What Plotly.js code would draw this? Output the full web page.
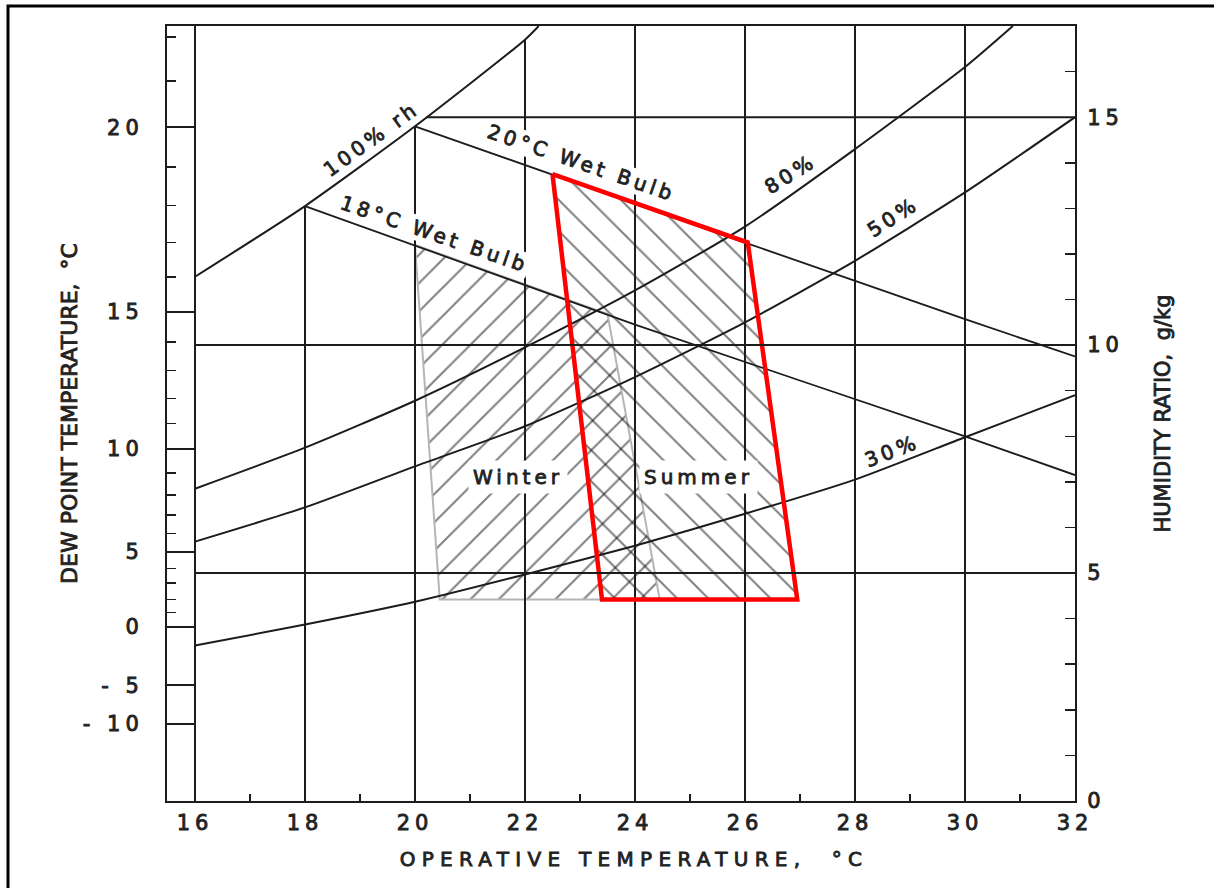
<!DOCTYPE html>
<html>
<head>
<meta charset="utf-8">
<script src="https://cdn.plot.ly/plotly-3.0.1.min.js"></script>
<style>
html,body{margin:0;padding:0;background:#fff;}
svg text{letter-spacing:5px; stroke:#222; stroke-width:0.85px;}
svg text.xtitle{letter-spacing:6.3px; translate:13px 0;}
svg text.ytitle, svg text.y2title{letter-spacing:0px;}
svg text.ytitle{translate:3px 0;}
svg text.annotation-text{letter-spacing:4px;}
</style>
</head>
<body>
<div id="chart" style="width:1214px;height:888px;"></div>
<script>
// ---------- data ----------
// vertical operative-temperature lines (°C) and the humidity ratio (g/kg) where each one stops
const gridTemps = [16, 18, 20, 22, 24, 26, 28, 30];
const gridTops  = [17, 13.05, 14.8, 16.7, 17, 17, 17, 17];
const xTickVals = [16, 18, 20, 22, 24, 26, 28, 30, 32];
const xTickText = ['16', '18', '20', '22', '24', '26', '28', '30', '32'];
const xMinorTicks = [17, 19, 21, 23, 25, 27, 29, 31];

// horizontal humidity-ratio lines (g/kg)
const hLineW     = [5, 10, 15];
const hLineStart = [16, 16, 20.2];
const hLineEnd   = [32, 32, 32];

// right axis: humidity ratio, g/kg
const wTickVals = [0, 5, 10, 15];
const wTickText = ['0', '5', '10', '15'];
const wMinorTicks = [1, 2, 3, 4, 6, 7, 8, 9, 11, 12, 13, 14, 16];

// left axis: dew point temperature labels placed on the humidity-ratio scale
const dewTickW    = [14.78, 10.73, 7.72, 5.46, 3.82, 2.54, 1.69];
const dewTickText = ['20', '15', '10', '5', '0', '- 5', '- 10'];
const dewMinorW   = [16.76, 15.79, 13.91, 13.06, 12.25, 11.49, 10.07, 9.44, 8.83, 8.28,
                     7.19, 6.71, 6.27, 5.87, 5.10, 4.78, 4.42, 4.14];

// relative humidity curves (operative temperature °C, humidity ratio g/kg)
const rh100T = [16, 18, 20, 22, 22.25];
const rh100W = [11.5, 13.05, 14.8, 16.7, 17.0];
const rh80T  = [16, 18, 20, 22, 24, 26, 28, 30, 30.87];
const rh80W  = [6.85, 7.75, 8.78, 9.95, 11.2, 12.6, 14.3, 16.1, 17.0];
const rh50T  = [16, 18, 20, 22, 24, 26, 28, 30, 32];
const rh50W  = [5.69, 6.44, 7.34, 8.22, 9.3, 10.5, 11.85, 13.35, 15.0];
const rh30T  = [16, 18, 20, 22, 24, 26, 28, 30, 32];
const rh30W  = [3.41, 3.87, 4.37, 4.97, 5.6, 6.3, 7.05, 7.98, 8.9];

// wet bulb lines
const wb18T = [18, 24, 30, 32];
const wb18W = [13.05, 10.45, 8.0, 7.15];
const wb20T = [20, 26, 30, 32];
const wb20W = [14.8, 12.25, 10.57, 9.75];

// comfort zones
const winterT = [20.0, 23.5, 24.45, 20.45];
const winterW = [12.2, 10.68, 4.42, 4.42];
const summerT = [22.5, 26.05, 26.95, 23.4];
const summerW = [13.75, 12.25, 4.42, 4.42];

// ---------- build traces ----------
const FONT = 'DejaVu Sans, Liberation Sans, Arial, sans-serif';
const INK = '#1c1c1c';

function segments(xs0, xs1, ys0, ys1) {
  const x = [], y = [];
  for (let i = 0; i < xs0.length; i++) {
    x.push(xs0[i], xs1[i], null);
    y.push(ys0[i], ys1[i], null);
  }
  return {x, y};
}
function closed(a) { return a.concat([a[0]]); }

const vGrid = segments(gridTemps, gridTemps, gridTemps.map(() => 0), gridTops);
const hGrid = segments(hLineStart, hLineEnd, hLineW, hLineW);

const traces = [
  { // winter zone hatch
    x: closed(winterT), y: closed(winterW), type: 'scatter', mode: 'lines',
    fill: 'toself', fillcolor: 'rgba(0,0,0,0)',
    fillpattern: {shape: '/', size: 20, solidity: 0.1, fgcolor: '#000', bgcolor: 'rgba(0,0,0,0)', fillmode: 'overlay'},
    line: {color: '#b5b5b5', width: 2}, hoverinfo: 'skip'
  },
  { // summer zone hatch
    x: closed(summerT), y: closed(summerW), type: 'scatter', mode: 'lines',
    fill: 'toself', fillcolor: 'rgba(0,0,0,0)',
    fillpattern: {shape: '\\', size: 22, solidity: 0.09, fgcolor: '#000', bgcolor: 'rgba(0,0,0,0)', fillmode: 'overlay'},
    line: {color: '#b5b5b5', width: 1}, hoverinfo: 'skip'
  },
  { x: vGrid.x, y: vGrid.y, type: 'scatter', mode: 'lines', line: {color: INK, width: 2}, hoverinfo: 'skip' },
  { x: hGrid.x, y: hGrid.y, type: 'scatter', mode: 'lines', line: {color: INK, width: 2}, yaxis: 'y2', hoverinfo: 'skip' },
  { x: rh100T, y: rh100W, type: 'scatter', mode: 'lines', line: {color: INK, width: 2, shape: 'spline', smoothing: 0.6}, name: '100% rh' },
  { x: rh80T, y: rh80W, type: 'scatter', mode: 'lines', line: {color: INK, width: 2, shape: 'spline', smoothing: 0.6}, name: '80%' },
  { x: rh50T, y: rh50W, type: 'scatter', mode: 'lines', line: {color: INK, width: 2, shape: 'spline', smoothing: 0.6}, name: '50%' },
  { x: rh30T, y: rh30W, type: 'scatter', mode: 'lines', line: {color: INK, width: 2, shape: 'spline', smoothing: 0.6}, name: '30%' },
  { x: wb18T, y: wb18W, type: 'scatter', mode: 'lines', line: {color: INK, width: 1.8, shape: 'spline', smoothing: 0.4}, name: '18°C Wet Bulb' },
  { x: wb20T, y: wb20W, type: 'scatter', mode: 'lines', line: {color: INK, width: 1.8, shape: 'spline', smoothing: 0.4}, name: '20°C Wet Bulb' },
  { // red outline around the summer zone
    x: closed(summerT), y: closed(summerW), type: 'scatter', mode: 'lines',
    line: {color: '#ff0000', width: 4.5}, hoverinfo: 'skip'
  }
];

const tickFont = {family: FONT, size: 21, color: '#222'};
const annFont = {family: FONT, size: 20, color: '#222'};

const layout = {
  width: 1214, height: 888,
  margin: {l: 167, r: 139, t: 26, b: 87, pad: 0},
  paper_bgcolor: '#fff', plot_bgcolor: '#fff',
  showlegend: false,
  font: {family: FONT, color: '#222'},
  xaxis: {
    range: [15.491, 32], showline: true, linecolor: INK, linewidth: 2, mirror: true,
    showgrid: false, zeroline: false,
    tickmode: 'array', tickvals: xTickVals, ticktext: xTickText, tickangle: 0,
    ticks: 'inside', ticklen: 1, tickcolor: INK, ticklabelstandoff: 2,
    minor: {tickmode: 'array', tickvals: xMinorTicks, ticks: 'inside', ticklen: 7, tickwidth: 2, tickcolor: INK, showgrid: false},
    tickfont: tickFont,
    title: {text: 'OPERATIVE TEMPERATURE,\u00a0\u00a0°C', font: {family: FONT, size: 20, color: '#222'}, standoff: 18}
  },
  yaxis: {
    range: [0, 17], showline: true, linecolor: INK, linewidth: 2,
    showgrid: false, zeroline: false,
    tickmode: 'array', tickvals: dewTickW, ticktext: dewTickText,
    ticks: 'inside', ticklen: 28, tickwidth: 2, tickcolor: INK, ticklabelstandoff: 17,
    minor: {tickmode: 'array', tickvals: dewMinorW, ticks: 'inside', ticklen: 9, tickwidth: 1.5, tickcolor: INK, showgrid: false},
    tickfont: tickFont,
    title: {text: 'DEW POINT TEMPERATURE,\u00a0\u00a0°C', font: {family: FONT, size: 22, color: '#222'}, standoff: 2}
  },
  yaxis2: {
    range: [0, 17], overlaying: 'y', side: 'right', anchor: 'x',
    showline: true, linecolor: INK, linewidth: 2,
    showgrid: false, zeroline: false,
    tickmode: 'array', tickvals: wTickVals, ticktext: wTickText,
    ticks: 'inside', ticklen: 1, tickcolor: INK, ticklabelstandoff: 6,
    minor: {tickmode: 'array', tickvals: wMinorTicks, ticks: 'inside', ticklen: 10, tickwidth: 1.5, tickcolor: INK, showgrid: false},
    tickfont: tickFont,
    title: {text: 'HUMIDITY RATIO,\u00a0\u00a0g/kg', font: {family: FONT, size: 21, color: '#222'}, standoff: 32}
  },
  shapes: [
    {type: 'rect', xref: 'paper', yref: 'paper', x0: -0.1751, x1: 1.3, y0: -0.3, y1: 1.0258,
     line: {color: '#000', width: 3}, fillcolor: 'rgba(0,0,0,0)'}
  ],
  annotations: [
    {x: 19.2, y: 14.53, text: '100% rh', showarrow: false, textangle: -36, font: annFont},
    {x: 23.04, y: 14.0, text: '20°C Wet Bulb', showarrow: false, textangle: 19, font: annFont, bgcolor: '#fff', borderpad: 0},
    {x: 20.36, y: 12.44, text: '18°C Wet Bulb', showarrow: false, textangle: 19, font: annFont, bgcolor: '#fff', borderpad: 0},
    {x: 26.82, y: 13.76, text: '80%', showarrow: false, textangle: -32, font: annFont},
    {x: 28.69, y: 12.81, text: '50%', showarrow: false, textangle: -33, font: annFont},
    {x: 28.67, y: 7.67, text: '30%', showarrow: false, textangle: -21, font: annFont},
    {x: 21.87, y: 7.11, text: 'Winter', showarrow: false, font: annFont, bgcolor: '#fff', borderpad: 4},
    {x: 25.15, y: 7.11, text: 'Summer', showarrow: false, font: annFont, bgcolor: '#fff', borderpad: 4}
  ]
};

Plotly.newPlot('chart', traces, layout, {staticPlot: true, displayModeBar: false});
</script>
</body>
</html>
